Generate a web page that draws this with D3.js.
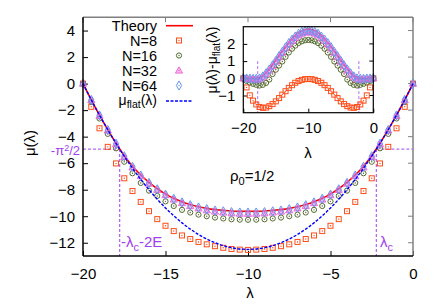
<!DOCTYPE html>
<html lang="en">
<head>
<meta charset="UTF-8">
<title>mu(lambda)</title>
<script src="https://d3js.org/d3.v7.min.js"></script>
<style>
  body { margin: 0; background: #fff; }
  svg text { font-family: "Liberation Sans", Arial, sans-serif; }
</style>
</head>
<body>
<svg width="436" height="305"></svg>
<script>
// lambda grid
const lambda = [-20, -19.5, -19, -18.5, -18, -17.5, -17, -16.5, -16, -15.5, -15, -14.5, -14, -13.5, -13, -12.5, -12, -11.5, -11, -10.5,
  -10, -9.5, -9, -8.5, -8, -7.5, -7, -6.5, -6, -5.5, -5, -4.5, -4, -3.5, -3, -2.5, -2, -1.5, -1, -0.5, 0];

const muFlat = [0, -1.22, -2.38, -3.47, -4.50, -5.47, -6.38, -7.22, -8.00, -8.72, -9.38, -9.97, -10.50, -10.97, -11.38, -11.72, -12.00, -12.22, -12.38, -12.47,
  -12.50, -12.47, -12.38, -12.22, -12.00, -11.72, -11.38, -10.97, -10.50, -9.97, -9.38, -8.72, -8.00, -7.22, -6.38, -5.47, -4.50, -3.47, -2.38, -1.22, 0];

const theory = [0, -1.22, -2.38, -3.47, -4.50, -5.44, -6.23, -6.89, -7.45, -7.93, -8.33, -8.65, -8.91, -9.12, -9.29, -9.41, -9.50, -9.56, -9.61, -9.63,
  -9.63, -9.63, -9.61, -9.56, -9.50, -9.41, -9.29, -9.12, -8.91, -8.65, -8.33, -7.93, -7.45, -6.89, -6.23, -5.44, -4.50, -3.47, -2.38, -1.22, 0];

const n8 = [0, -1.75, -3.37, -4.77, -6.02, -7.14, -8.10, -8.92, -9.62, -10.22, -10.72, -11.12, -11.45, -11.72, -11.94, -12.12, -12.26, -12.38, -12.47, -12.52,
  -12.54, -12.52, -12.47, -12.38, -12.26, -12.12, -11.94, -11.72, -11.45, -11.12, -10.72, -10.22, -9.62, -8.92, -8.10, -7.14, -6.02, -4.77, -3.37, -1.75, 0];

const n16 = [0, -1.37, -2.63, -3.79, -4.88, -5.89, -6.76, -7.49, -8.07, -8.47, -8.88, -9.23, -9.52, -9.72, -9.88, -10.00, -10.10, -10.17, -10.23, -10.26,
  -10.27, -10.26, -10.23, -10.17, -10.10, -10.00, -9.88, -9.72, -9.52, -9.23, -8.88, -8.47, -8.07, -7.49, -6.76, -5.89, -4.88, -3.79, -2.63, -1.37, 0];

const n32 = [0, -1.25, -2.43, -3.53, -4.57, -5.53, -6.32, -6.98, -7.54, -8.01, -8.41, -8.74, -9.01, -9.23, -9.41, -9.55, -9.65, -9.72, -9.78, -9.81,
  -9.82, -9.81, -9.78, -9.72, -9.65, -9.55, -9.41, -9.23, -9.01, -8.74, -8.41, -8.01, -7.54, -6.98, -6.32, -5.53, -4.57, -3.53, -2.43, -1.25, 0];

const n64 = [0, -1.23, -2.40, -3.50, -4.53, -5.48, -6.27, -6.93, -7.49, -7.97, -8.37, -8.69, -8.96, -9.17, -9.34, -9.47, -9.57, -9.63, -9.69, -9.72,
  -9.72, -9.72, -9.69, -9.63, -9.57, -9.47, -9.34, -9.17, -8.96, -8.69, -8.37, -7.97, -7.49, -6.93, -6.27, -5.48, -4.53, -3.50, -2.40, -1.23, 0];

const xTicks = [-20, -15, -10, -5, 0];
const yTicks = [-12, -10, -8, -6, -4, -2, 0, 2, 4];
const insetXTicks = [-20, -10, 0];
const insetYTicks = [-1, 0, 1, 2];

const lambdaC = -2.22;
const halfPi2 = -Math.PI * Math.PI / 2;

const series = [
  { name: "N=8", values: n8, shape: "square", color: "#ff4d1a" },
  { name: "N=16", values: n16, shape: "circle", color: "#556b2f" },
  { name: "N=32", values: n32, shape: "triangle", color: "#f068d8" },
  { name: "N=64", values: n64, shape: "diamond", color: "#6495ed" }
];

const purple = "#a040f0";
const purpleLine = "#b46cf5";
const fmt = d3.format("d");

const svg = d3.select("svg");

const x = d3.scaleLinear().domain([-20, 0]).range([83, 413]);
const y = d3.scaleLinear().domain([-13, 5]).range([256, 17.3]);

// inset scales
const ix = d3.scaleLinear().domain([-20, 0]).range([243.3, 373.3]);
const iy = d3.scaleLinear().domain([-2, 3]).range([112.7, 26.7]);

function marker(g, shape, cx, cy, color) {
  if (shape === "square") {
    g.append("rect").attr("x", cx - 2.5).attr("y", cy - 2.5).attr("width", 5).attr("height", 5)
      .attr("fill", "none").attr("stroke", color).attr("stroke-width", 1);
  } else if (shape === "circle") {
    g.append("circle").attr("cx", cx).attr("cy", cy).attr("r", 2.6)
      .attr("fill", "none").attr("stroke", color).attr("stroke-width", 1);
  } else if (shape === "triangle") {
    g.append("path").attr("d", d3.symbol(d3.symbolTriangle, 22)())
      .attr("transform", `translate(${cx},${cy + 0.5})`)
      .attr("fill", color).attr("fill-opacity", 0.45).attr("stroke", color).attr("stroke-width", 1);
  } else {
    g.append("path").attr("d", d3.symbol(d3.symbolDiamond, 24)())
      .attr("transform", `translate(${cx},${cy})`)
      .attr("fill", "none").attr("stroke", color).attr("stroke-width", 1);
  }
  g.append("circle").attr("cx", cx).attr("cy", cy).attr("r", 0.7).attr("fill", color);
}

// ---- main frame / axes ----
const gx = svg.append("g").attr("transform", "translate(0,256)")
  .call(d3.axisBottom(x).tickValues(xTicks).tickFormat(fmt).tickSizeInner(-5).tickSizeOuter(0).tickPadding(12));
const gy = svg.append("g").attr("transform", "translate(83,0)")
  .call(d3.axisLeft(y).tickValues(yTicks).tickFormat(fmt).tickSizeInner(-5).tickSizeOuter(0).tickPadding(8));
[gx, gy].forEach(g => {
  g.select(".domain").remove();
  g.selectAll("text").attr("font-size", 15).attr("fill", "#000")
    .attr("font-family", '"Liberation Sans", Arial, sans-serif');
  g.selectAll("line").attr("stroke", "#000");
});

// grey mirror ticks on top and right
svg.append("g").selectAll("line").data(xTicks).join("line")
  .attr("x1", d => x(d)).attr("x2", d => x(d)).attr("y1", 17.3).attr("y2", 22.3)
  .attr("stroke", "#808080");
svg.append("g").selectAll("line").data(yTicks).join("line")
  .attr("x1", 413).attr("x2", 408).attr("y1", d => y(d)).attr("y2", d => y(d))
  .attr("stroke", "#808080");

svg.append("line").attr("x1", 83).attr("x2", 413).attr("y1", 17.3).attr("y2", 17.3)
  .attr("stroke", "#808080").attr("stroke-width", 1.5);
svg.append("line").attr("x1", 413).attr("x2", 413).attr("y1", 17.3).attr("y2", 256)
  .attr("stroke", "#808080").attr("stroke-width", 1.5);

// purple guide lines
const guides = svg.append("g").attr("stroke", purpleLine).attr("stroke-width", 1.3)
  .attr("stroke-dasharray", "3,2").attr("fill", "none");
guides.append("line").attr("x1", x(-20)).attr("x2", x(-20 - lambdaC)).attr("y1", y(halfPi2)).attr("y2", y(halfPi2));
guides.append("line").attr("x1", x(-20 - lambdaC)).attr("x2", x(-20 - lambdaC)).attr("y1", y(halfPi2)).attr("y2", 256);
guides.append("line").attr("x1", x(lambdaC)).attr("x2", x(0)).attr("y1", y(halfPi2)).attr("y2", y(halfPi2));
guides.append("line").attr("x1", x(lambdaC)).attr("x2", x(lambdaC)).attr("y1", y(halfPi2)).attr("y2", 256);

// ---- main curves ----
const line = d3.line().x((d, i) => x(lambda[i])).y(d => y(d)).curve(d3.curveCatmullRom);

svg.append("path").datum(theory).attr("d", line)
  .attr("fill", "none").attr("stroke", "#ff0000").attr("stroke-width", 1.6);

series.forEach(s => {
  const g = svg.append("g");
  s.values.forEach((v, i) => marker(g, s.shape, x(lambda[i]), y(v), s.color));
});

svg.append("path").datum(muFlat).attr("d", line)
  .attr("fill", "none").attr("stroke", "#0000ff").attr("stroke-width", 1.4)
  .attr("stroke-dasharray", "3,1.5");

// left and bottom borders (black)
svg.append("line").attr("x1", 83).attr("x2", 83).attr("y1", 17.3).attr("y2", 256)
  .attr("stroke", "#000").attr("stroke-width", 1.5);
svg.append("line").attr("x1", 83).attr("x2", 413).attr("y1", 256).attr("y2", 256)
  .attr("stroke", "#000").attr("stroke-width", 1.5);

// ---- labels ----
svg.append("text").attr("x", 250).attr("y", 298).attr("text-anchor", "middle")
  .attr("font-size", 15).text("λ");
svg.append("text").attr("transform", "translate(35,143) rotate(-90)").attr("text-anchor", "middle")
  .attr("font-size", 15).text("μ(λ)");

const piLab = svg.append("text").attr("x", 80).attr("y", 154.5).attr("text-anchor", "end")
  .attr("font-size", 13).attr("fill", purple);
piLab.append("tspan").text("-π");
piLab.append("tspan").attr("dy", -4).attr("font-size", 9).text("2");
piLab.append("tspan").attr("dy", 4).text("/2");

const lcLab = svg.append("text").attr("x", 121).attr("y", 247).attr("font-size", 15).attr("fill", purple);
lcLab.append("tspan").text("-λ");
lcLab.append("tspan").attr("dy", 4).attr("font-size", 11).text("c");
lcLab.append("tspan").attr("dy", -4).text("-2E");

const lc2 = svg.append("text").attr("x", 380).attr("y", 247).attr("font-size", 15).attr("fill", purple);
lc2.append("tspan").text("λ");
lc2.append("tspan").attr("dy", 4).attr("font-size", 11).text("c");

const rho = svg.append("text").attr("x", 230).attr("y", 181).attr("font-size", 15).attr("fill", "#000");
rho.append("tspan").text("ρ");
rho.append("tspan").attr("dy", 4).attr("font-size", 11).text("0");
rho.append("tspan").attr("dy", -4).text("=1/2");

// ---- legend ----
const legRows = [25.7, 40.5, 55.5, 70.5, 85.5, 101];
const legFont = 14.5;
const leg = svg.append("g");
leg.append("text").attr("x", 157).attr("y", legRows[0] + 5).attr("text-anchor", "end").attr("font-size", legFont).text("Theory");
leg.append("line").attr("x1", 166).attr("x2", 193).attr("y1", legRows[0]).attr("y2", legRows[0])
  .attr("stroke", "#ff0000").attr("stroke-width", 1.6);
series.forEach((s, i) => {
  const r = legRows[i + 1];
  leg.append("text").attr("x", 157).attr("y", r + 5).attr("text-anchor", "end").attr("font-size", legFont).text(s.name);
  marker(leg, s.shape, 179, r, s.color);
});
const flatLab = leg.append("text").attr("x", 157).attr("y", legRows[5] + 3.5).attr("text-anchor", "end").attr("font-size", 14);
flatLab.append("tspan").text("μ");
flatLab.append("tspan").attr("dy", 3).attr("font-size", 10.5).text("flat");
flatLab.append("tspan").attr("dy", -3).text("(λ)");
leg.append("line").attr("x1", 166).attr("x2", 193).attr("y1", legRows[5]).attr("y2", legRows[5])
  .attr("stroke", "#0000ff").attr("stroke-width", 1.4).attr("stroke-dasharray", "3,1.5");

// ---- inset ----
const inset = svg.append("g");
inset.append("rect").attr("x", 243.3).attr("y", 26.7).attr("width", 130).attr("height", 86)
  .attr("fill", "#fff").attr("stroke", "none");

const igx = inset.append("g").attr("transform", "translate(0,112.7)")
  .call(d3.axisBottom(ix).tickValues(insetXTicks).tickFormat(fmt).tickSizeInner(-4).tickSizeOuter(0).tickPadding(10));
const igy = inset.append("g").attr("transform", "translate(243.3,0)")
  .call(d3.axisLeft(iy).tickValues(insetYTicks).tickFormat(fmt).tickSizeInner(-4).tickSizeOuter(0).tickPadding(8));
[igx, igy].forEach(g => {
  g.select(".domain").remove();
  g.selectAll("text").attr("font-size", 15).attr("fill", "#000")
    .attr("font-family", '"Liberation Sans", Arial, sans-serif');
  g.selectAll("line").attr("stroke", "#000");
});
inset.append("g").selectAll("line").data(insetYTicks).join("line")
  .attr("x1", 373.3).attr("x2", 369.3).attr("y1", d => iy(d)).attr("y2", d => iy(d)).attr("stroke", "#000");

// inset guides
const ig = inset.append("g").attr("stroke", purpleLine).attr("stroke-width", 1)
  .attr("stroke-dasharray", "3,2");
[-20 - lambdaC, lambdaC].forEach(v => {
  ig.append("line").attr("x1", ix(v)).attr("x2", ix(v)).attr("y1", iy(1)).attr("y2", 112.7);
});

const diff = arr => arr.map((v, i) => v - muFlat[i]);
const iline = d3.line().x((d, i) => ix(lambda[i])).y(d => iy(d)).curve(d3.curveCatmullRom);

inset.append("path").datum(diff(theory)).attr("d", iline)
  .attr("fill", "none").attr("stroke", "#ff0000").attr("stroke-width", 1.4);
series.forEach(s => {
  const g = inset.append("g");
  diff(s.values).forEach((v, i) => marker(g, s.shape, ix(lambda[i]), iy(v), s.color));
});

inset.append("rect").attr("x", 243.3).attr("y", 26.7).attr("width", 130).attr("height", 86)
  .attr("fill", "none").attr("stroke", "#000").attr("stroke-width", 1.2);

inset.append("text").attr("x", 308).attr("y", 158).attr("text-anchor", "middle")
  .attr("font-size", 15).text("λ");
const iyl = inset.append("text").attr("transform", "translate(217,60) rotate(-90)")
  .attr("text-anchor", "middle").attr("font-size", 14);
iyl.append("tspan").text("μ(λ)-μ");
iyl.append("tspan").attr("dy", 3).attr("font-size", 10).text("flat");
iyl.append("tspan").attr("dy", -3).text("(λ)");
</script>
</body>
</html>
